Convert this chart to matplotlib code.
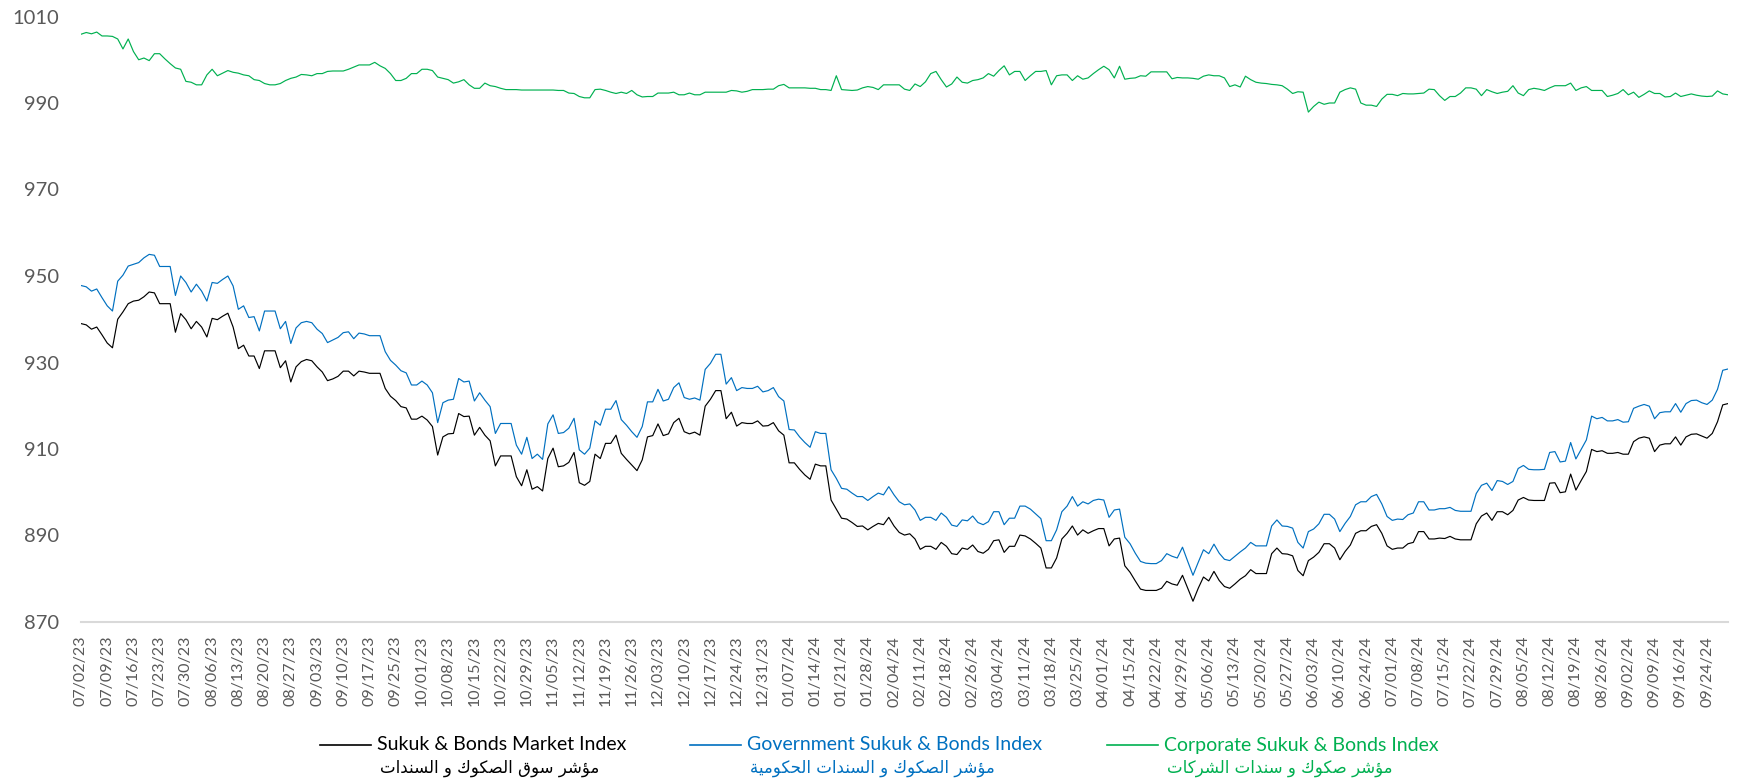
import numpy as np
import matplotlib
matplotlib.use('Agg')
from matplotlib import pyplot as plt
from matplotlib.lines import Line2D

plt.rcParams['font.family'] = ['Lato', 'DejaVu Sans']

# weekly category labels (every 5th trading day)
tick_labels = ['07/02/23', '07/09/23', '07/16/23', '07/23/23', '07/30/23', '08/06/23', '08/13/23',
               '08/20/23', '08/27/23', '09/03/23', '09/10/23', '09/17/23', '09/25/23', '10/01/23',
               '10/08/23', '10/15/23', '10/22/23', '10/29/23', '11/05/23', '11/12/23', '11/19/23',
               '11/26/23', '12/03/23', '12/10/23', '12/17/23', '12/24/23', '12/31/23', '01/07/24',
               '01/14/24', '01/21/24', '01/28/24', '02/04/24', '02/11/24', '02/18/24', '02/26/24',
               '03/04/24', '03/11/24', '03/18/24', '03/25/24', '04/01/24', '04/15/24', '04/22/24',
               '04/29/24', '05/06/24', '05/13/24', '05/20/24', '05/27/24', '06/03/24', '06/10/24',
               '06/24/24', '07/01/24', '07/08/24', '07/15/24', '07/22/24', '07/29/24', '08/05/24',
               '08/12/24', '08/19/24', '08/26/24', '09/02/24', '09/09/24', '09/16/24', '09/24/24']

# Sukuk & Bonds Market Index (daily)
market = [
    939.0, 938.7, 937.7, 938.2, 936.4, 934.5, 933.4, 940.0, 941.7, 943.6,
    944.2, 944.4, 945.2, 946.3, 946.1, 943.6, 943.6, 943.6, 937.0, 941.3,
    939.9, 937.8, 939.5, 938.2, 935.9, 940.2, 939.9, 940.7, 941.4, 938.2,
    933.2, 934.0, 931.5, 931.5, 928.6, 932.7, 932.7, 932.7, 928.8, 930.4,
    925.5, 929.0, 930.2, 930.7, 930.4, 929.0, 927.8, 925.8, 926.2, 926.8,
    928.0, 928.0, 926.9, 928.0, 927.8, 927.5, 927.5, 927.5, 924.0, 922.2,
    921.2, 919.8, 919.5, 916.9, 916.9, 917.6, 916.7, 915.2, 908.6, 912.8,
    913.5, 913.6, 918.2, 917.5, 917.6, 913.2, 915.0, 913.2, 911.9, 906.1,
    908.4, 908.4, 908.4, 903.6, 901.5, 905.2, 900.7, 901.3, 900.3, 907.8,
    910.2, 905.9, 906.1, 906.9, 909.2, 902.2, 901.6, 902.5, 908.8, 907.8,
    911.3, 911.3, 913.2, 909.0, 907.6, 906.3, 905.0, 907.5, 912.8, 913.1,
    915.8, 913.1, 913.5, 916.1, 917.1, 914.0, 913.5, 913.9, 913.2, 919.9,
    921.5, 923.5, 923.5, 917.0, 918.5, 915.3, 916.1, 915.9, 915.9, 916.5,
    915.3, 915.4, 916.1, 914.2, 913.2, 906.8, 906.8, 905.3, 904.0, 903.0,
    906.5, 906.1, 906.1, 898.2, 896.1, 894.0, 893.8, 893.0, 892.1, 892.2,
    891.3, 892.1, 892.8, 892.5, 894.2, 892.2, 890.7, 890.1, 890.4, 889.2,
    886.8, 887.5, 887.5, 886.8, 888.4, 887.5, 885.8, 885.6, 887.1, 886.8,
    887.8, 886.3, 885.9, 886.8, 888.8, 889.0, 886.1, 887.5, 887.5, 890.1,
    889.9, 889.2, 888.2, 887.1, 882.5, 882.5, 884.8, 889.2, 890.5, 892.2,
    890.1, 891.3, 890.5, 891.1, 891.6, 891.6, 887.6, 889.2, 889.4, 883.0,
    881.5, 879.5, 877.6, 877.3, 877.3, 877.3, 877.8, 879.4, 878.8, 878.5,
    880.8, 877.8, 874.8, 877.8, 880.4, 879.5, 881.7, 879.6, 878.2, 877.8,
    878.8, 879.9, 880.7, 882.1, 881.2, 881.2, 881.2, 885.8, 887.1, 885.8,
    885.7, 885.3, 881.9, 880.7, 884.2, 885.0, 886.1, 888.1, 888.1, 887.1,
    884.4, 886.3, 887.8, 890.5, 891.1, 891.1, 892.1, 892.5, 890.5, 887.6,
    886.8, 887.1, 887.1, 888.1, 888.4, 890.9, 890.9, 889.2, 889.2, 889.4,
    889.3, 889.8, 889.2, 889.0, 889.0, 889.0, 892.7, 894.5, 895.2, 893.5,
    895.5, 895.5, 894.8, 895.8, 898.2, 898.8, 898.2, 898.1, 898.1, 898.1,
    902.1, 902.2, 899.9, 900.1, 904.2, 900.5, 902.7, 904.8, 909.9, 909.4,
    909.6, 909.0, 909.0, 909.2, 908.8, 908.8, 911.7, 912.5, 912.8, 912.5,
    909.4, 910.9, 911.2, 911.2, 912.8, 910.9, 912.8, 913.4, 913.5, 913.0,
    912.5, 913.6, 916.3, 920.2, 920.5,
]

# Government Sukuk & Bonds Index
government = [
    947.8, 947.5, 946.5, 947.0, 945.0, 943.1, 941.9, 948.8, 950.2, 952.3,
    952.7, 953.1, 954.2, 955.0, 954.8, 952.2, 952.2, 952.2, 945.5, 950.0,
    948.5, 946.3, 948.1, 946.5, 944.2, 948.5, 948.3, 949.2, 950.0, 947.7,
    942.3, 943.1, 940.4, 940.6, 937.3, 941.9, 941.9, 941.9, 937.8, 939.5,
    934.4, 938.0, 939.2, 939.5, 939.2, 937.7, 936.7, 934.6, 935.2, 935.8,
    936.9, 937.1, 935.5, 936.8, 936.6, 936.2, 936.2, 936.2, 932.5, 930.5,
    929.4, 928.1, 927.6, 924.8, 924.8, 925.7, 924.8, 923.0, 916.1, 920.7,
    921.3, 921.5, 926.3, 925.5, 925.7, 921.1, 923.0, 921.3, 919.8, 913.6,
    915.9, 915.9, 915.9, 910.9, 908.8, 912.7, 907.8, 908.8, 907.6, 915.8,
    917.9, 913.6, 913.8, 914.8, 917.1, 909.8, 908.8, 910.2, 916.5, 915.5,
    919.2, 919.2, 921.2, 916.8, 915.5, 914.0, 912.7, 915.2, 920.9, 920.9,
    923.8, 921.1, 921.5, 924.2, 925.3, 921.9, 921.5, 921.8, 921.3, 928.4,
    929.8, 931.9, 931.9, 925.0, 926.5, 923.5, 924.2, 924.0, 924.0, 924.5,
    923.2, 923.5, 924.2, 922.1, 921.1, 914.5, 914.4, 912.8, 911.5, 910.4,
    914.0, 913.6, 913.6, 905.2, 903.2, 900.9, 900.7, 899.8, 899.0, 899.0,
    898.1, 899.0, 899.8, 899.4, 901.3, 899.4, 897.8, 897.1, 897.3, 895.9,
    893.5, 894.2, 894.2, 893.5, 895.2, 894.2, 892.4, 892.1, 893.6, 893.4,
    894.5, 893.0, 892.5, 893.2, 895.5, 895.5, 892.5, 894.0, 894.0, 896.8,
    896.8, 896.1, 895.0, 893.9, 888.8, 888.8, 891.3, 895.5, 896.8, 899.0,
    896.8, 897.8, 897.3, 898.1, 898.4, 898.2, 894.2, 895.9, 896.1, 889.6,
    888.1, 885.9, 884.0, 883.6, 883.5, 883.5, 884.2, 885.8, 885.2, 884.8,
    887.3, 884.0, 880.8, 883.8, 886.7, 885.8, 888.0, 885.9, 884.5, 884.2,
    885.2, 886.2, 887.1, 888.4, 887.6, 887.6, 887.6, 892.2, 893.6, 892.2,
    892.1, 891.7, 888.4, 887.1, 890.9, 891.5, 892.7, 894.9, 894.9, 893.8,
    890.9, 892.8, 894.4, 897.1, 897.8, 897.8, 899.0, 899.5, 897.3, 894.4,
    893.5, 893.8, 893.7, 894.8, 895.2, 897.8, 897.8, 895.9, 895.9, 896.2,
    896.2, 896.5, 895.8, 895.6, 895.6, 895.6, 899.7, 901.6, 902.1, 900.4,
    902.7, 902.5, 901.8, 902.5, 905.5, 906.2, 905.3, 905.2, 905.2, 905.3,
    909.2, 909.4, 907.0, 907.2, 911.5, 907.7, 909.9, 912.1, 917.6, 917.0,
    917.3, 916.5, 916.5, 916.8, 916.2, 916.3, 919.4, 919.9, 920.3, 919.9,
    917.0, 918.4, 918.6, 918.6, 920.5, 918.5, 920.5, 921.2, 921.3, 920.7,
    920.3, 921.3, 923.8, 928.2, 928.5,
]

# Corporate Sukuk & Bonds Index
corporate = [
    1005.9, 1006.3, 1006.0, 1006.4, 1005.5, 1005.5, 1005.4, 1004.8, 1002.5, 1004.8,
    1001.9, 1000.0, 1000.4, 999.8, 1001.4, 1001.4, 1000.2, 999.1, 998.1, 997.8,
    995.0, 994.8, 994.2, 994.2, 996.5, 997.8, 996.3, 996.9, 997.5, 997.1,
    996.9, 996.5, 996.3, 995.4, 995.2, 994.5, 994.2, 994.2, 994.5, 995.2,
    995.7, 996.0, 996.6, 996.5, 996.3, 996.8, 996.8, 997.3, 997.4, 997.4,
    997.4, 997.8, 998.3, 998.8, 998.8, 998.8, 999.4, 998.6, 998.0, 996.8,
    995.2, 995.2, 995.7, 996.8, 996.8, 997.8, 997.8, 997.5, 996.0, 995.7,
    995.4, 994.6, 994.9, 995.4, 994.2, 993.4, 993.4, 994.6, 994.0, 993.8,
    993.4, 993.1, 993.1, 993.1, 993.0, 993.0, 993.0, 993.0, 993.0, 993.0,
    993.0, 992.9, 992.9, 992.3, 992.2, 991.5, 991.2, 991.2, 993.1, 993.2,
    992.9, 992.5, 992.2, 992.5, 992.2, 992.9, 991.9, 991.4, 991.5, 991.5,
    992.3, 992.3, 992.3, 992.5, 991.9, 991.9, 992.3, 991.9, 991.9, 992.5,
    992.5, 992.5, 992.5, 992.5, 992.9, 992.8, 992.5, 992.7, 993.1, 993.1,
    993.1, 993.2, 993.2, 994.0, 994.3, 993.5, 993.5, 993.5, 993.5, 993.4,
    993.4, 993.1, 993.1, 992.9, 996.3, 993.1, 993.0, 992.9, 993.0, 993.5,
    993.8, 993.6, 993.1, 994.2, 994.2, 994.2, 994.2, 993.2, 992.9, 994.4,
    993.8, 994.9, 996.8, 997.3, 995.4, 993.7, 994.4, 996.0, 994.8, 994.6,
    995.2, 995.4, 995.8, 996.8, 996.2, 997.5, 998.6, 996.5, 997.3, 997.3,
    995.2, 996.3, 997.3, 997.3, 997.5, 994.2, 996.3, 996.5, 996.5, 995.2,
    996.3, 995.5, 995.8, 996.8, 997.7, 998.5, 997.7, 995.8, 998.5, 995.5,
    995.7, 995.8, 996.3, 996.2, 997.2, 997.2, 997.2, 997.2, 995.6, 995.9,
    995.8, 995.8, 995.7, 995.5, 996.2, 996.5, 996.3, 996.3, 995.8, 993.8,
    994.2, 993.7, 996.2, 995.4, 994.8, 994.6, 994.5, 994.3, 994.2, 994.0,
    993.2, 992.2, 992.6, 992.5, 987.9, 989.2, 990.2, 989.7, 990.0, 990.0,
    992.5, 993.1, 993.5, 993.2, 990.0, 989.5, 989.5, 989.2, 990.9, 992.0,
    992.0, 991.7, 992.2, 992.1, 992.1, 992.2, 992.3, 993.2, 993.1, 991.7,
    990.6, 991.5, 991.5, 992.3, 993.5, 993.5, 993.2, 991.7, 993.1, 992.6,
    992.2, 992.5, 992.7, 994.0, 992.3, 991.7, 993.1, 993.4, 993.2, 992.9,
    993.5, 994.0, 994.0, 994.0, 994.6, 992.9, 993.5, 993.8, 992.9, 992.9,
    992.9, 991.5, 991.8, 992.2, 993.1, 991.9, 992.5, 991.3, 992.0, 992.8,
    992.2, 992.2, 991.4, 991.5, 992.3, 991.5, 991.8, 992.1, 991.8, 991.6,
    991.5, 991.6, 992.8, 992.1, 991.9,
]

names_en = ['Sukuk & Bonds Market Index', 'Government Sukuk & Bonds Index',
            'Corporate Sukuk & Bonds Index']
names_ar = ['مؤشر سوق الصكوك و السندات', 'مؤشر الصكوك و السندات الحكومية',
            'مؤشر صكوك و سندات الشركات']
colors = ['#000000', '#0070C0', '#00B050']

# matplotlib has no arabic shaping: map letters to their contextual forms, then reverse
AR_FORMS = {
    '\u0624': (0xFE85, 0xFE86), '\u0627': (0xFE8D, 0xFE8E), '\u0629': (0xFE93, 0xFE94),
    '\u062A': (0xFE95, 0xFE96, 0xFE97, 0xFE98), '\u062D': (0xFEA1, 0xFEA2, 0xFEA3, 0xFEA4),
    '\u062F': (0xFEA9, 0xFEAA), '\u0631': (0xFEAD, 0xFEAE),
    '\u0633': (0xFEB1, 0xFEB2, 0xFEB3, 0xFEB4), '\u0634': (0xFEB5, 0xFEB6, 0xFEB7, 0xFEB8),
    '\u0635': (0xFEB9, 0xFEBA, 0xFEBB, 0xFEBC), '\u0642': (0xFED5, 0xFED6, 0xFED7, 0xFED8),
    '\u0643': (0xFED9, 0xFEDA, 0xFEDB, 0xFEDC), '\u0644': (0xFEDD, 0xFEDE, 0xFEDF, 0xFEE0),
    '\u0645': (0xFEE1, 0xFEE2, 0xFEE3, 0xFEE4), '\u0646': (0xFEE5, 0xFEE6, 0xFEE7, 0xFEE8),
    '\u0648': (0xFEED, 0xFEEE), '\u064A': (0xFEF1, 0xFEF2, 0xFEF3, 0xFEF4),
}


def shape_ar(text):
    out = []
    for i, ch in enumerate(text):
        if ch not in AR_FORMS:
            out.append(ch)
            continue
        prev = text[i - 1] if i > 0 else ''
        nxt = text[i + 1] if i + 1 < len(text) else ''
        forms = AR_FORMS[ch]
        j_prev = prev in AR_FORMS and len(AR_FORMS[prev]) == 4
        j_next = nxt in AR_FORMS and len(forms) == 4
        if j_prev and j_next:
            out.append(chr(forms[3]))
        elif j_prev:
            out.append(chr(forms[1]))
        elif j_next:
            out.append(chr(forms[2]))
        else:
            out.append(chr(forms[0]))
    return ''.join(reversed(out))


W, H = 1739, 781
fig = plt.figure(figsize=(W / 100, H / 100), dpi=100)
ax = fig.add_axes([81 / W, 1 - 622 / H, (1728 - 81) / W, (622 - 16.5) / H])

x = np.arange(len(market))
for series, c in zip([market, government, corporate], colors):
    ax.plot(x, series, color=c, lw=0.85)

ax.set_xlim(0, len(market) - 1)
ax.set_ylim(870, 1010)
ax.set_yticks(np.arange(870, 1011, 20))
ax.set_xticks(np.arange(0, 5 * len(tick_labels), 5))
ax.set_xticklabels(tick_labels, rotation=90)
ax.tick_params(axis='y', length=0, pad=16, labelsize=14.5, labelcolor='#595959')
ax.tick_params(axis='x', length=0, pad=10, labelsize=11.5, labelcolor='#595959')
for s in ['top', 'right', 'left']:
    ax.spines[s].set_visible(False)
ax.spines['bottom'].set_color('#D9D9D9')
ax.spines['bottom'].set_linewidth(1.5)

# legend drawn by hand: english name on first line, arabic below
leg_x = [320, 690, 1107]
ly = 1 - 745 / H
for en, ar, c, x0 in zip(names_en, names_ar, colors, leg_x):
    fig.add_artist(Line2D([x0 / W, (x0 + 51) / W], [ly, ly], transform=fig.transFigure,
                          color=c, lw=1.2))
    fig.text((x0 + 57) / W, ly, en, color=c, fontsize=14, ha='left', va='center')
    fig.text((x0 + 60) / W, 1 - 768 / H, shape_ar(ar), color=c, fontsize=12,
             ha='left', va='center', family=['DejaVu Sans'])

plt.savefig('out.png', dpi=100)
